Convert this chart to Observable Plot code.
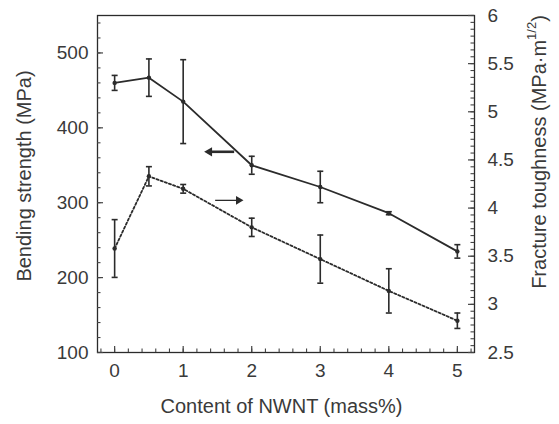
<!DOCTYPE html>
<html><head><meta charset="utf-8">
<script src="https://cdn.jsdelivr.net/npm/d3@7"></script>
<script src="https://cdn.jsdelivr.net/npm/@observablehq/plot@0.6"></script>
<style>
html,body{margin:0;padding:0;background:#fff}
#chart svg{display:block}
</style>
</head><body><div id="chart"></div>
<script>
// ---- data ----
const content = [0, 0.5, 1, 2, 3, 4, 5];
const strength = [460, 467, 435, 350, 321, 286, 235];
const strengthErr = [10, 25, 56, 12, 21, 2, 9];
const toughness = [3.58, 4.33, 4.20, 3.80, 3.47, 3.14, 2.83];
const toughnessErr = [0.30, 0.10, 0.045, 0.095, 0.25, 0.23, 0.08];
const xTicks = [0, 1, 2, 3, 4, 5];
const leftTicks = [100, 200, 300, 400, 500];
const rightTicks = [2.5, 3, 3.5, 4, 4.5, 5, 5.5, 6];
const xLabel = "Content of NWNT (mass%)";
const leftLabel = "Bending strength (MPa)";
const rightLabel = ["Fracture toughness (MPa\u00b7m", "1/2", ")"];
// annotation arrows (data units)
const arrowStrength = [{x1: 1.70, x2: 1.31, y: 368}];
const arrowToughness = [{x1: 1.51, x2: 1.88, y: 4.08}];

const ink = "#2b2b2b";
const tickInk = "#444";
const textInk = "#3a3a3a";
const toLeft = d3.scaleLinear([2.5, 6], [100, 550]);

const sRows = content.map((x, i) => ({x, v: strength[i], lo: strength[i] - strengthErr[i], hi: strength[i] + strengthErr[i]}));
const tRows = content.map((x, i) => ({x, v: toLeft(toughness[i]), lo: toLeft(toughness[i] - toughnessErr[i]), hi: toLeft(toughness[i] + toughnessErr[i])}));
const capSymbol = {draw(ctx) { ctx.moveTo(-3, 0); ctx.lineTo(3, 0); }};
const xMinor = d3.range(-1, 27).map(i => i * 0.2).filter(v => v >= -0.25 && v <= 5.25);
const leftMinor = d3.range(0, 23).map(i => 100 + i * 20).filter(v => v <= 550);
const rightMinor = d3.range(0, 50).map(i => toLeft(2.5 + i * 0.5 / 7)).filter(v => v <= 550);

const W = 559, H = 424, mL = 97, mR = 85, mT = 15, mB = 72;
const PW = W - mL - mR, PH = H - mT - mB;
const MAJ = 6, MIN = 3.5;

const chart = Plot.plot({
  width: W, height: H,
  marginLeft: mL, marginRight: mR, marginTop: mT, marginBottom: mB,
  style: {fontFamily: "'Liberation Sans', Arial, sans-serif", fontSize: "19px", color: textInk, background: "#fff"},
  x: {domain: [-0.25, 5.25]},
  y: {domain: [100, 550]},
  marks: [
    Plot.axisX(xTicks, {tickSize: 0, tickPadding: 11, label: null, fontSize: 19}),
    Plot.axisY(leftTicks, {anchor: "left", tickSize: 0, tickPadding: 9, label: null, fontSize: 19}),
    Plot.axisY(rightTicks.map(toLeft), {anchor: "right", tickSize: 0, tickPadding: 13, label: null, fontSize: 19,
      tickFormat: v => String(+toLeft.invert(v).toFixed(1))}),
    Plot.frame({stroke: ink, strokeWidth: 1.3}),
    // inward tick marks
    Plot.tickX(xTicks, {x: d => d, insetTop: PH - MAJ, stroke: tickInk, strokeWidth: 1.2}),
    Plot.tickX(xMinor, {x: d => d, insetTop: PH - MIN, stroke: tickInk, strokeWidth: 1.1}),
    Plot.tickY(leftTicks, {y: d => d, insetRight: PW - MAJ, stroke: tickInk, strokeWidth: 1.2}),
    Plot.tickY(leftMinor, {y: d => d, insetRight: PW - MIN, stroke: tickInk, strokeWidth: 1.1}),
    Plot.tickY(rightTicks.map(toLeft), {y: d => d, insetLeft: PW - MAJ, stroke: tickInk, strokeWidth: 1.2}),
    Plot.tickY(rightMinor, {y: d => d, insetLeft: PW - MIN, stroke: tickInk, strokeWidth: 1.1}),
    // bending strength (solid)
    Plot.line(sRows, {x: "x", y: "v", stroke: ink, strokeWidth: 1.8}),
    Plot.ruleX(sRows, {x: "x", y1: "lo", y2: "hi", stroke: ink, strokeWidth: 1.6}),
    Plot.dot(sRows, {x: "x", y: "lo", symbol: capSymbol, fill: "none", stroke: ink, strokeWidth: 1.6}),
    Plot.dot(sRows, {x: "x", y: "hi", symbol: capSymbol, fill: "none", stroke: ink, strokeWidth: 1.6}),
    Plot.dot(sRows, {x: "x", y: "v", r: 2.2, fill: ink, stroke: "none"}),
    // fracture toughness (dotted)
    Plot.line(tRows, {x: "x", y: "v", stroke: ink, strokeWidth: 1.8, strokeDasharray: "2.2,2.2"}),
    Plot.ruleX(tRows, {x: "x", y1: "lo", y2: "hi", stroke: ink, strokeWidth: 1.6}),
    Plot.dot(tRows, {x: "x", y: "lo", symbol: capSymbol, fill: "none", stroke: ink, strokeWidth: 1.6}),
    Plot.dot(tRows, {x: "x", y: "hi", symbol: capSymbol, fill: "none", stroke: ink, strokeWidth: 1.6}),
    Plot.dot(tRows, {x: "x", y: "v", r: 2.2, fill: ink, stroke: "none"}),
    // arrows
    Plot.link(arrowStrength, {x1: "x1", x2: "x2", y1: "y", y2: "y", stroke: ink, strokeWidth: 2.6, dx: 3}),
    Plot.dot(arrowStrength, {x: "x2", y: "y", symbol: "triangle", r: 3.4, rotate: -90, dx: 5, fill: ink, stroke: "none"}),
    Plot.link(arrowToughness, {x1: "x1", x2: "x2", y1: d => toLeft(d.y), y2: d => toLeft(d.y), stroke: ink, strokeWidth: 1.3, dx: -3}),
    Plot.dot(arrowToughness, {x: "x2", y: d => toLeft(d.y), symbol: "triangle", r: 3.2, rotate: 90, dx: -5, fill: ink, stroke: "none"})
  ]
});
document.getElementById("chart").append(chart);

const svg = d3.select(chart);
const fam = "'Liberation Sans', Arial, sans-serif";
const plotCx = mL + PW / 2;
svg.append("text").attr("x", plotCx - 4).attr("y", 408)
  .attr("text-anchor", "middle").attr("dominant-baseline", "middle")
  .attr("font-family", fam).attr("font-size", 20).attr("fill", textInk).text(xLabel);
svg.append("text").attr("transform", `translate(26,176) rotate(-90)`)
  .attr("text-anchor", "middle").attr("dominant-baseline", "middle")
  .attr("font-family", fam).attr("font-size", 20).attr("fill", textInk).text(leftLabel);
const rt = svg.append("text").attr("transform", `translate(541,152) rotate(-90)`)
  .attr("text-anchor", "middle").attr("dominant-baseline", "middle")
  .attr("font-family", fam).attr("font-size", 20).attr("fill", textInk);
rt.append("tspan").text(rightLabel[0]);
rt.append("tspan").attr("dy", -8).attr("font-size", 13).text(rightLabel[1]);
rt.append("tspan").attr("dy", 8).text(rightLabel[2]);
</script>
</body></html>
